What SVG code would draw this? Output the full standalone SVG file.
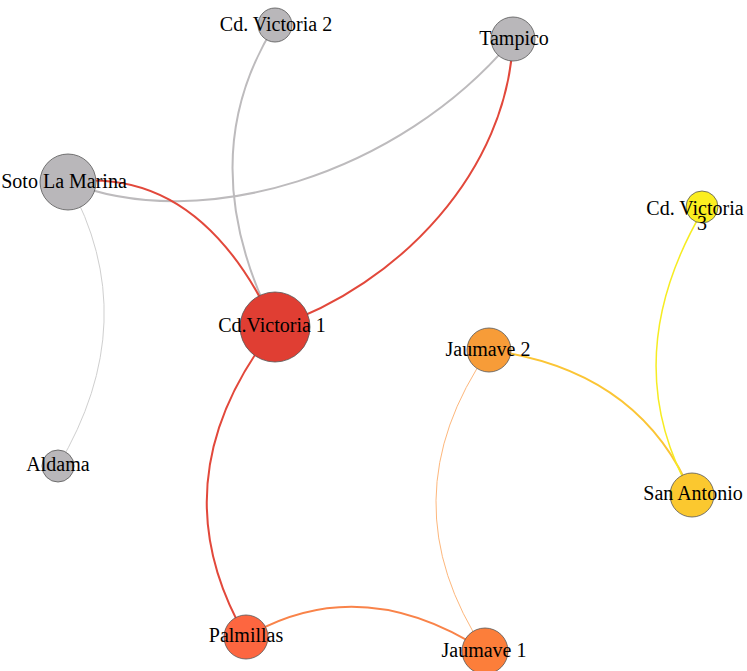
<svg xmlns="http://www.w3.org/2000/svg" width="747" height="671" viewBox="0 0 747 671">
<style>
.n{stroke:#555;stroke-width:0.8}
.l{font-family:"Liberation Serif","Times New Roman",serif;font-size:20px;fill:#000;text-anchor:middle}
.e{fill:none}
</style>
<rect width="747" height="671" fill="#fff"/>
<g id="edges">
<path class="e" d="M275,25 Q190,160 275,327" stroke="#bdbbbd" stroke-width="2"/>
<path class="e" d="M513,39 C400,175 200,235 68,182" stroke="#bdbbbd" stroke-width="2"/>
<path class="e" d="M513,39 C508,170 400,285 275,327" stroke="#e2483b" stroke-width="2"/>
<path class="e" d="M68,182 Q200,165 275,327" stroke="#e2483b" stroke-width="2"/>
<path class="e" d="M68,182 Q145,320 58,466" stroke="#cfcfcf" stroke-width="1"/>
<path class="e" d="M275,327 Q155,480 246,637" stroke="#e2483b" stroke-width="2"/>
<path class="e" d="M246,637 Q360,570 485,651" stroke="#f98349" stroke-width="2"/>
<path class="e" d="M489,350 Q385,500 485,651" stroke="#fdb77c" stroke-width="1"/>
<path class="e" d="M489,350 Q640,370 692,495" stroke="#fbc535" stroke-width="2"/>
<path class="e" d="M703,210 Q615,360 692,495" stroke="#f6ec22" stroke-width="1.5"/>
</g>
<g id="cdv2"><circle class="n" cx="275" cy="25" r="17" fill="#b9b7ba"/><text class="l" x="276" y="31">Cd. Victoria 2</text></g>
<g id="tampico"><circle class="n" cx="513" cy="39" r="22" fill="#b9b7ba"/><text class="l" x="514" y="45">Tampico</text></g>
<g id="soto"><circle class="n" cx="68" cy="182" r="28" fill="#b9b7ba"/><text class="l" x="64" y="188">Soto La Marina</text></g>
<g id="cdv3"><circle class="n" cx="702" cy="207" r="16" fill="#fbee1f"/><text class="l" x="695" y="215">Cd. Victoria</text><text class="l" x="702" y="230">3</text></g>
<g id="cdv1"><circle class="n" cx="275" cy="327" r="35" fill="#e03e33"/><text class="l" x="272" y="332">Cd.Victoria 1</text></g>
<g id="jaumave2"><circle class="n" cx="489" cy="350" r="22" fill="#f79c38"/><text class="l" x="488" y="356">Jaumave 2</text></g>
<g id="aldama"><circle class="n" cx="58" cy="466" r="16" fill="#b9b7ba"/><text class="l" x="58" y="471">Aldama</text></g>
<g id="sanantonio"><circle class="n" cx="692" cy="495" r="22" fill="#fbc82f"/><text class="l" x="693" y="500">San Antonio</text></g>
<g id="palmillas"><circle class="n" cx="246" cy="637" r="22" fill="#fd6640"/><text class="l" x="246" y="642">Palmillas</text></g>
<g id="jaumave1"><circle class="n" cx="485" cy="651" r="23" fill="#fc7e3a"/><text class="l" x="484" y="657">Jaumave 1</text></g>
</svg>
